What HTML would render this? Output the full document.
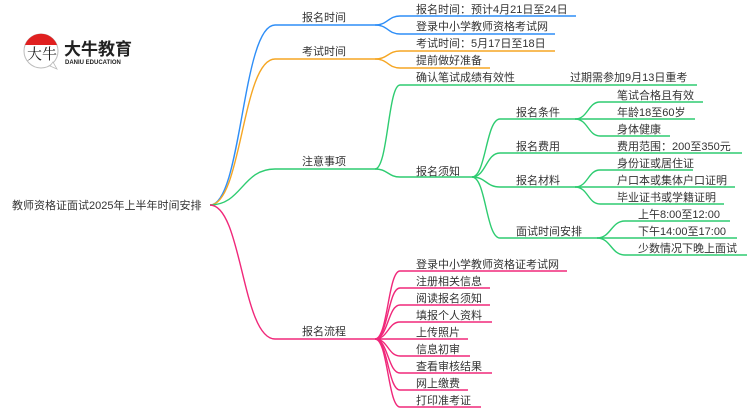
<!DOCTYPE html>
<html><head><meta charset="utf-8"><style>
html,body{margin:0;padding:0;background:#fff;}
svg{display:block;}
text{font-family:"Liberation Sans","Noto Sans CJK SC",sans-serif;font-size:11px;fill:#333;}
</style></head><body>
<svg width="750" height="410" viewBox="0 0 750 410" xmlns="http://www.w3.org/2000/svg">
<!-- logo -->
<circle cx="41" cy="51" r="17" fill="#fff" stroke="#bbb" stroke-width="1"/>
<path d="M25 45 A17 17 0 0 1 57 45 Z" fill="#e02020"/>
<path d="M50 66 L57 69 L53 62 Z" fill="#fff" stroke="#bbb" stroke-width="0.8"/>
<text x="27" y="59" style="font-size:15px;fill:#222;font-family:'Noto Serif CJK SC',serif">大牛</text>
<text x="64" y="55" style="font-size:17px;font-weight:bold;fill:#222">大牛教育</text>
<text x="65" y="64" style="font-size:6px;font-weight:bold;fill:#222">DANIU EDUCATION</text>

<g fill="none" stroke-width="1.4">
<g stroke="#2e8ef7">
<path d="M210 205 C242 205 242 25 275 25 H375"/>
<path d="M375 25 C388 25 388 16 400 16 H576"/>
<path d="M375 25 C388 25 388 34 400 34 H555"/>
</g>
<g stroke="#f5a623">
<path d="M210 205 C242 205 242 59 275 59 H375"/>
<path d="M375 59 C388 59 388 51 400 51 H555"/>
<path d="M375 59 C388 59 388 68 400 68 H490"/>
</g>
<g stroke="#2ecc71">
<path d="M210 205 C242 205 242 169 275 169 H375"/>
<path d="M375 169 C388 169 388 85 400 85 H697"/>
<path d="M375 169 C388 169 388 177 400 177 H472"/>
<path d="M472 177 C486 177 486 119 500 119 H575"/>
<path d="M472 177 C486 177 486 153 500 153 H742"/>
<path d="M472 177 C486 177 486 187 500 187 H575"/>
<path d="M472 177 C486 177 486 238 500 238 H597"/>
<path d="M575 119 C588 119 588 102 600 102 H703"/>
<path d="M575 119 C588 119 588 119 600 119 H695"/>
<path d="M575 119 C588 119 588 136 600 136 H670"/>
<path d="M575 187 C588 187 588 170 600 170 H693"/>
<path d="M575 187 C588 187 588 187 600 187 H735"/>
<path d="M575 187 C588 187 588 204 600 204 H724"/>
<path d="M597 238 C611 238 611 221 625 221 H730"/>
<path d="M597 238 C611 238 611 238 625 238 H737"/>
<path d="M597 238 C611 238 611 255 625 255 H747"/>
</g>
<g stroke="#f0287a">
<path d="M210 205 C242 205 242 339 275 339 H375"/>
<path d="M375 339 C388 339 388 271 400 271 H567"/>
<path d="M375 339 C388 339 388 288 400 288 H490"/>
<path d="M375 339 C388 339 388 305 400 305 H490"/>
<path d="M375 339 C388 339 388 322 400 322 H492"/>
<path d="M375 339 C388 339 388 339 400 339 H468"/>
<path d="M375 339 C388 339 388 356 400 356 H470"/>
<path d="M375 339 C388 339 388 373 400 373 H492"/>
<path d="M375 339 C388 339 388 390 400 390 H468"/>
<path d="M375 339 C388 339 388 407 400 407 H481"/>
</g>
</g>

<text x="12" y="209">教师资格证面试2025年上半年时间安排</text>
<text x="302" y="21">报名时间</text>
<text x="302" y="55">考试时间</text>
<text x="302" y="165">注意事项</text>
<text x="302" y="335">报名流程</text>

<text x="416" y="13">报名时间：预计4月21日至24日</text>
<text x="416" y="30">登录中小学教师资格考试网</text>
<text x="416" y="47">考试时间：5月17日至18日</text>
<text x="416" y="64">提前做好准备</text>
<text x="416" y="81">确认笔试成绩有效性</text>
<text x="570" y="81">过期需参加9月13日重考</text>
<text x="416" y="175">报名须知</text>
<text x="516" y="116">报名条件</text>
<text x="516" y="150">报名费用</text>
<text x="516" y="184">报名材料</text>
<text x="516" y="235">面试时间安排</text>
<text x="617" y="99">笔试合格且有效</text>
<text x="617" y="116">年龄18至60岁</text>
<text x="617" y="133">身体健康</text>
<text x="617" y="150">费用范围：200至350元</text>
<text x="617" y="167">身份证或居住证</text>
<text x="617" y="184">户口本或集体户口证明</text>
<text x="617" y="201">毕业证书或学籍证明</text>
<text x="638" y="218">上午8:00至12:00</text>
<text x="638" y="235">下午14:00至17:00</text>
<text x="638" y="252">少数情况下晚上面试</text>

<text x="416" y="268">登录中小学教师资格证考试网</text>
<text x="416" y="285">注册相关信息</text>
<text x="416" y="302">阅读报名须知</text>
<text x="416" y="319">填报个人资料</text>
<text x="416" y="336">上传照片</text>
<text x="416" y="353">信息初审</text>
<text x="416" y="370">查看审核结果</text>
<text x="416" y="387">网上缴费</text>
<text x="416" y="404">打印准考证</text>
</svg>
</body></html>
